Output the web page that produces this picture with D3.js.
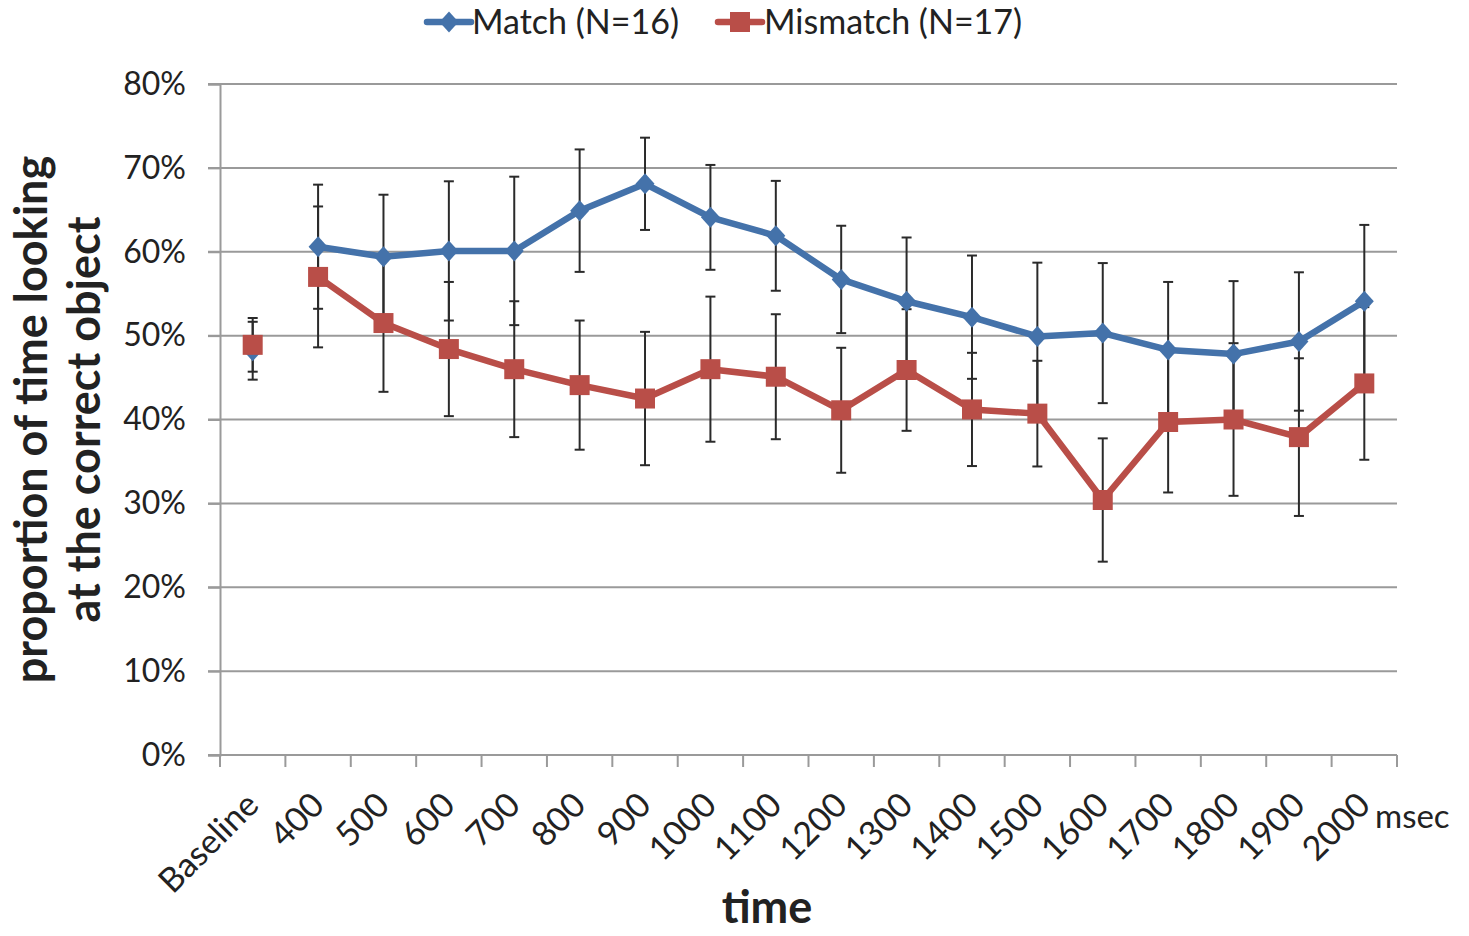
<!DOCTYPE html>
<html>
<head>
<meta charset="utf-8">
<script src="https://cdn.jsdelivr.net/npm/d3@7"></script>
<style>
  body { margin: 0; background: #fff; }
  text { font-family: Lato, "Open Sans", sans-serif; fill: #222; }
</style>
</head>
<body>
<svg id="chart" width="1469" height="936"></svg>
<script>
// Data
var categories = ["Baseline", "400", "500", "600", "700", "800", "900", "1000", "1100",
                  "1200", "1300", "1400", "1500", "1600", "1700", "1800", "1900", "2000"];
var matchValues = [48.2, 60.6, 59.4, 60.1, 60.1, 64.9, 68.1, 64.1, 61.9,
                   56.7, 54.1, 52.2, 49.9, 50.3, 48.3, 47.8, 49.3, 54.1];
var matchErr = [3.45, 7.4, 7.4, 8.3, 8.85, 7.3, 5.5, 6.25, 6.55,
                6.4, 7.6, 7.35, 8.8, 8.35, 8.1, 8.7, 8.25, 9.1];
var mismatchValues = [48.9, 57.0, 51.5, 48.4, 46.0, 44.1, 42.5, 46.0, 45.1,
                      41.1, 45.9, 41.2, 40.7, 30.4, 39.7, 40.0, 37.9, 44.3];
var mismatchErr = [3.2, 8.4, 8.2, 8.0, 8.1, 7.7, 7.95, 8.65, 7.45,
                   7.45, 7.25, 6.75, 6.3, 7.35, 8.4, 9.1, 9.4, 9.1];
var yTicks = [0, 10, 20, 30, 40, 50, 60, 70, 80];

var series = [
  { name: "Match (N=16)", values: matchValues, err: matchErr, color: "#4472AA", shape: "diamond" },
  { name: "Mismatch (N=17)", values: mismatchValues, err: mismatchErr, color: "#B94E48", shape: "square" }
];

// Layout
var margin = { left: 220, right: 72, top: 84, bottom: 181 };
var width = 1469, height = 936;

var svg = d3.select("#chart");

var x = d3.scaleBand()
    .domain(categories)
    .range([margin.left, width - margin.right]);

var y = d3.scaleLinear()
    .domain([0, 80])
    .range([height - margin.bottom, margin.top]);

// Gridlines
svg.append("g")
    .selectAll("line")
    .data(yTicks)
    .enter()
    .append("line")
    .attr("x1", margin.left - 12)
    .attr("x2", width - margin.right)
    .attr("y1", function(d) { return y(d); })
    .attr("y2", function(d) { return y(d); })
    .attr("stroke", "#9a9a9a")
    .attr("stroke-width", 2);

// Y axis
var yAxis = svg.append("g")
    .attr("transform", "translate(" + margin.left + ",0)")
    .call(d3.axisLeft(y).tickValues(yTicks).tickSize(12).tickFormat(function(d) { return d + "%"; }));
yAxis.select(".domain").attr("stroke", "#9a9a9a").attr("stroke-width", 2);
yAxis.selectAll(".tick line").attr("stroke", "#9a9a9a").attr("stroke-width", 2);
yAxis.selectAll(".tick text")
    .attr("x", -34)
    .style("font-size", "32px")
    .style("font-family", "Lato, sans-serif")
    .attr("fill", "#222");

// X axis: ticks sit on band boundaries
var xAxisG = svg.append("g")
    .attr("transform", "translate(0," + y(0) + ")");
xAxisG.append("line")
    .attr("x1", margin.left)
    .attr("x2", width - margin.right)
    .attr("stroke", "#9a9a9a")
    .attr("stroke-width", 2);
var boundaries = categories.map(function(c) { return x(c); }).concat([x(categories[categories.length - 1]) + x.bandwidth()]);
xAxisG.selectAll("line.tick")
    .data(boundaries)
    .enter()
    .append("line")
    .attr("class", "tick")
    .attr("x1", function(d) { return d; })
    .attr("x2", function(d) { return d; })
    .attr("y1", 0)
    .attr("y2", 12)
    .attr("stroke", "#9a9a9a")
    .attr("stroke-width", 2);

xAxisG.selectAll("text.cat")
    .data(categories)
    .enter()
    .append("text")
    .attr("class", "cat")
    .attr("text-anchor", "end")
    .attr("transform", function(d) {
        var cx = x(d) + x.bandwidth() / 2 + 8;
        return "translate(" + cx + ",52)rotate(-45)";
    })
    .style("font-size", "34px")
    .text(function(d) { return d; });

svg.append("text")
    .attr("x", 1375)
    .attr("y", 828)
    .style("font-size", "33px")
    .text("msec");

// Axis titles
svg.append("text")
    .attr("x", 767)
    .attr("y", 923)
    .attr("text-anchor", "middle")
    .style("font-size", "45px")
    .style("font-weight", "bold")
    .text("time");

var yTitle = svg.append("g")
    .attr("transform", "translate(0," + ((y(0) + y(80)) / 2) + ")rotate(-90)");
yTitle.append("text")
    .attr("x", 0)
    .attr("y", 47)
    .attr("text-anchor", "middle")
    .style("font-size", "45px")
    .style("font-weight", "bold")
    .text("proportion of time looking");
yTitle.append("text")
    .attr("x", 0)
    .attr("y", 100)
    .attr("text-anchor", "middle")
    .style("font-size", "45px")
    .style("font-weight", "bold")
    .text("at the correct object");

// Error bars (drawn under the lines)
var errG = svg.append("g");
series.forEach(function(s) {
    var g = errG.append("g");
    var pts = categories.map(function(c, i) { return { c: c, v: s.values[i], e: s.err[i] }; });
    g.selectAll("line.stem")
        .data(pts)
        .enter()
        .append("line")
        .attr("x1", function(d) { return x(d.c) + x.bandwidth() / 2; })
        .attr("x2", function(d) { return x(d.c) + x.bandwidth() / 2; })
        .attr("y1", function(d) { return y(d.v - d.e); })
        .attr("y2", function(d) { return y(d.v + d.e); })
        .attr("stroke", "#2a2a2a")
        .attr("stroke-width", 2);
    [-1, 1].forEach(function(sign) {
        g.selectAll("line.cap" + sign)
            .data(pts)
            .enter()
            .append("line")
            .attr("x1", function(d) { return x(d.c) + x.bandwidth() / 2 - 5; })
            .attr("x2", function(d) { return x(d.c) + x.bandwidth() / 2 + 5; })
            .attr("y1", function(d) { return y(d.v + sign * d.e); })
            .attr("y2", function(d) { return y(d.v + sign * d.e); })
            .attr("stroke", "#2a2a2a")
            .attr("stroke-width", 2);
    });
});

// Lines and markers
var diamond = "M0,-10.5L9.5,0L0,10.5L-9.5,0Z";
var square = "M-10,-10H10V10H-10Z";

series.forEach(function(s) {
    // Baseline point is not connected to the time series
    var g = svg.append("g");
    g.append("path")
        .datum(s.values.slice(1))
        .attr("d", d3.line()
            .x(function(d, i) { return x(categories[i + 1]) + x.bandwidth() / 2; })
            .y(function(d) { return y(d); }))
        .attr("fill", "none")
        .attr("stroke", s.color)
        .attr("stroke-width", 6.5)
        .attr("stroke-linejoin", "round");
    g.selectAll("path.marker")
        .data(s.values)
        .enter()
        .append("path")
        .attr("class", "marker")
        .attr("d", s.shape === "diamond" ? diamond : square)
        .attr("transform", function(d, i) {
            return "translate(" + (x(categories[i]) + x.bandwidth() / 2) + "," + y(d) + ")";
        })
        .attr("fill", s.color);
});

// Legend
var legendPos = [{ x: 427, tx: 472 }, { x: 718, tx: 764 }];
series.forEach(function(s, i) {
    var lg = svg.append("g").attr("transform", "translate(" + legendPos[i].x + ",22)");
    lg.append("line")
        .attr("x1", 0).attr("x2", 44)
        .attr("stroke", s.color)
        .attr("stroke-width", 6.5)
        .attr("stroke-linecap", "round");
    lg.append("path")
        .attr("d", s.shape === "diamond" ? diamond : square)
        .attr("transform", "translate(22,0)")
        .attr("fill", s.color);
    svg.append("text")
        .attr("x", legendPos[i].tx)
        .attr("y", 34)
        .style("font-size", "34px")
        .text(s.name);
});
</script>
</body>
</html>
